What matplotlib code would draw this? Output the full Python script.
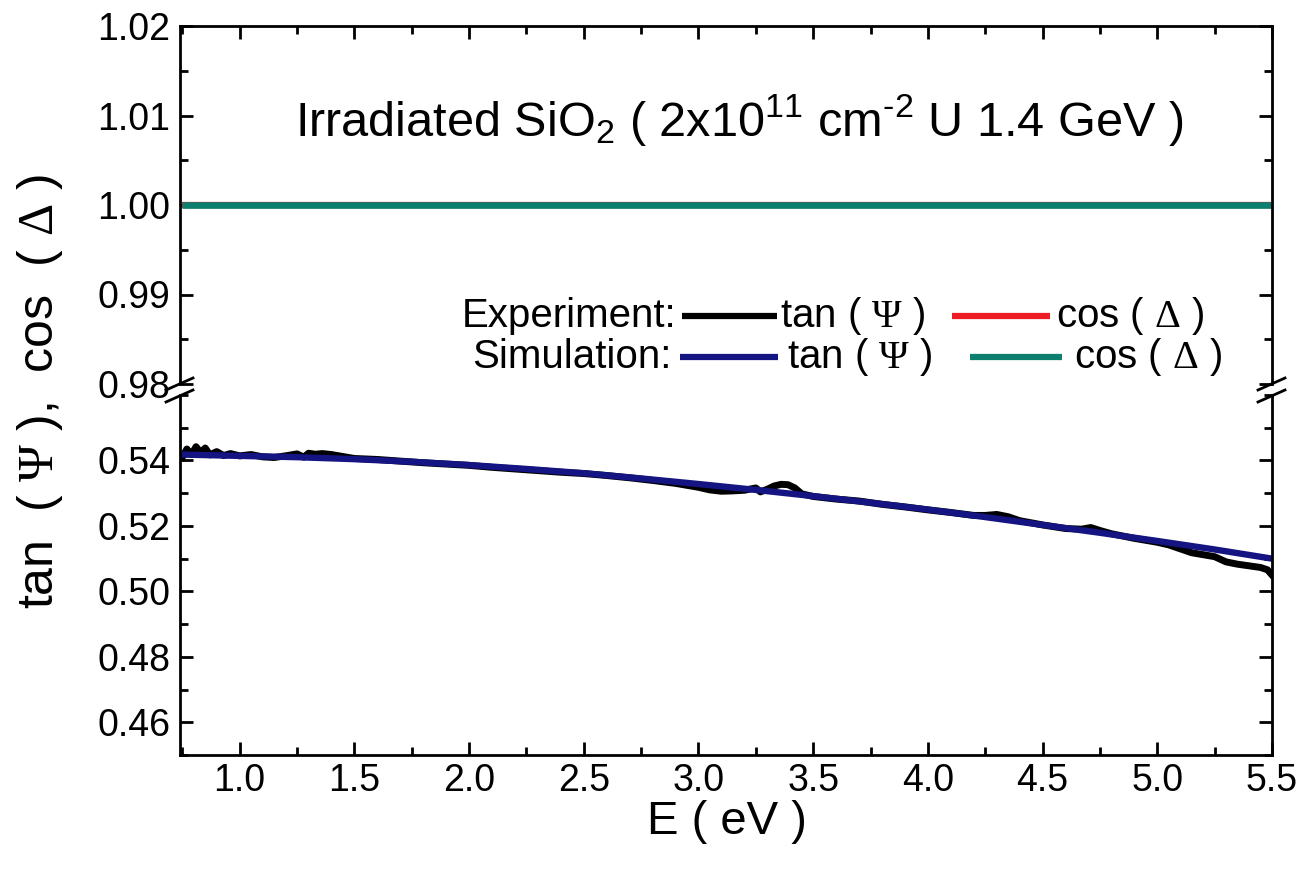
import matplotlib
matplotlib.use("Agg")
import matplotlib.pyplot as plt
from matplotlib.lines import Line2D
from matplotlib.ticker import MultipleLocator, FixedLocator

plt.rcParams['font.family'] = ['Liberation Sans', 'DejaVu Sans']
plt.rcParams['mathtext.fontset'] = 'custom'
plt.rcParams['mathtext.rm'] = 'Liberation Sans'
plt.rcParams['mathtext.it'] = 'Liberation Sans:italic'
plt.rcParams['mathtext.sf'] = 'Liberation Serif'

# ---------------- data ----------------
E_sim = [0.75, 1.0, 1.25, 1.5, 1.75, 2.0, 2.25, 2.5, 2.75, 3.0, 3.25, 3.5,
         3.75, 4.0, 4.25, 4.5, 4.75, 5.0, 5.25, 5.5]
tan_sim = [0.5418, 0.5414, 0.5410, 0.5404, 0.5396, 0.5386, 0.5374, 0.5361,
           0.5345, 0.5328, 0.5310, 0.5291, 0.5271, 0.5250, 0.5227, 0.5203,
           0.5179, 0.5154, 0.5128, 0.5100]
cos_sim = [1.0] * len(E_sim)

E_exp = [0.75, 0.77, 0.79, 0.81, 0.83, 0.85, 0.87, 0.90, 0.93, 0.96, 1.00,
         1.05, 1.10, 1.15, 1.20, 1.25, 1.28, 1.30, 1.33, 1.36, 1.40, 1.45,
         1.50, 1.60, 1.70, 1.80, 1.90, 2.00, 2.10, 2.20, 2.30, 2.40, 2.50,
         2.60, 2.70, 2.80, 2.90, 3.00, 3.05, 3.10, 3.15, 3.20, 3.25, 3.27,
         3.30, 3.33, 3.36, 3.39, 3.42, 3.45, 3.50, 3.60, 3.70, 3.80, 3.90,
         4.00, 4.10, 4.20, 4.25, 4.30, 4.35, 4.40, 4.50, 4.60, 4.67, 4.71,
         4.75, 4.80, 4.90, 5.00, 5.05, 5.10, 5.15, 5.20, 5.25, 5.30, 5.35,
         5.40, 5.45, 5.48, 5.50]
tan_exp = [0.5410, 0.5435, 0.5418, 0.5442, 0.5424, 0.5438, 0.5417, 0.5427,
           0.5415, 0.5421, 0.5414, 0.5418, 0.5411, 0.5409, 0.5414, 0.5420,
           0.5410, 0.5422, 0.5419, 0.5421, 0.5418, 0.5412, 0.5406, 0.5403,
           0.5398, 0.5393, 0.5389, 0.5385, 0.5379, 0.5374, 0.5369, 0.5364,
           0.5360, 0.5354, 0.5347, 0.5339, 0.5330, 0.5318, 0.5310, 0.5306,
           0.5307, 0.5309, 0.5316, 0.5304, 0.5312, 0.5322, 0.5327, 0.5326,
           0.5316, 0.5298, 0.5290, 0.5282, 0.5276, 0.5266, 0.5258, 0.5249,
           0.5241, 0.5232, 0.5232, 0.5235, 0.5228, 0.5216, 0.5203, 0.5192,
           0.5190, 0.5195, 0.5186, 0.5176, 0.5162, 0.5150, 0.5142, 0.5130,
           0.5118, 0.5112, 0.5106, 0.5090, 0.5083, 0.5078, 0.5073, 0.5066,
           0.5050]
cos_exp = [1.0] * len(E_exp)

xticks = [1.0, 1.5, 2.0, 2.5, 3.0, 3.5, 4.0, 4.5, 5.0, 5.5]
yticks_top = [0.98, 0.99, 1.00, 1.01, 1.02]
yticks_bot = [0.46, 0.48, 0.50, 0.52, 0.54]

C_BLACK = '#000000'
C_RED = '#ee1c25'
C_BLUE = '#141482'
C_TEAL = '#0c7f6e'

# ---------------- figure ----------------
W_PX, H_PX = 1316, 877
fig = plt.figure(figsize=(W_PX / 100, H_PX / 100), dpi=100)


def fx(px):
    return px / W_PX


def fy(py):
    return 1 - py / H_PX


x0, x1 = 180, 1272
ax_top = fig.add_axes([fx(x0), fy(384), fx(x1) - fx(x0), fy(26) - fy(384)])
ax_bot = fig.add_axes([fx(x0), fy(755), fx(x1) - fx(x0), fy(395) - fy(755)])

xlim = (0.74, 5.5)
for ax in (ax_top, ax_bot):
    ax.set_xlim(*xlim)
    ax.xaxis.set_major_locator(FixedLocator(xticks))
    ax.xaxis.set_minor_locator(MultipleLocator(0.25))
    for s in ax.spines.values():
        s.set_linewidth(2.0)
    ax.tick_params(which='both', direction='in', width=2.0, labelsize=27,
                   left=True, right=True)
    ax.tick_params(which='major', length=9.5)
    ax.tick_params(which='minor', length=5.5)

ax_top.set_ylim(0.98, 1.02)
ax_top.yaxis.set_major_locator(FixedLocator(yticks_top))
ax_top.yaxis.set_minor_locator(MultipleLocator(0.005))
ax_top.set_yticklabels(['%.2f' % v for v in yticks_top])
ax_top.spines['bottom'].set_visible(False)
ax_top.tick_params(which='both', top=True, bottom=False, labelbottom=False)

ax_bot.set_ylim(0.45, 0.56)
ax_bot.yaxis.set_major_locator(FixedLocator(yticks_bot))
ax_bot.yaxis.set_minor_locator(MultipleLocator(0.01))
ax_bot.set_yticklabels(['%.2f' % v for v in yticks_bot])
ax_bot.set_xticklabels(['%.1f' % v for v in xticks])
ax_bot.spines['top'].set_visible(False)
ax_bot.tick_params(which='both', top=False, bottom=True)
ax_bot.tick_params(axis='x', pad=6)
ax_bot.tick_params(axis='y', pad=7)
ax_top.tick_params(axis='y', pad=7)

# data lines
ax_top.plot(E_exp, cos_exp, color=C_RED, lw=4.5, solid_capstyle='butt')
ax_top.plot(E_sim, cos_sim, color=C_TEAL, lw=4.8, solid_capstyle='butt')
ax_bot.plot(E_exp, tan_exp, color=C_BLACK, lw=5.0, solid_joinstyle='round')
ax_bot.plot(E_sim, tan_sim, color=C_BLUE, lw=4.6)

# break marks
for xc in (x0, x1):
    for yc in (384, 396):
        fig.add_artist(Line2D([fx(xc - 14), fx(xc + 13)],
                              [fy(yc + 6), fy(yc - 6)],
                              color='black', lw=2.0))

# title
fig.text(fx(739), fy(120),
         r'Irradiated SiO$_2$ ( 2x10$^{11}$ cm$^{\text{-2}}$ U 1.4 GeV )',
         fontsize=35, ha='center', va='center')

# axis labels
fig.text(fx(727), fy(822), 'E ( eV )', fontsize=34, ha='center', va='center')
fig.text(fx(40), fy(392),
         r'tan  ( $\mathsf{\Psi}$ ),  cos  ( $\mathsf{\Delta}$ )',
         fontsize=36, ha='center', va='center', rotation=90)

# legend (custom layout)
LFS = 29
rows = [
    (316, 'Experiment:', 676, (682, 777, C_BLACK), 780, (952, 1050, C_RED), 1056),
    (357, 'Simulation:', 672, (680, 778, C_BLUE), 787, (970, 1062, C_TEAL), 1074),
]
for yc, lab, lab_r, l1, t1x, l2, t2x in rows:
    fig.text(fx(lab_r), fy(yc), lab, fontsize=LFS, ha='right', va='center')
    fig.add_artist(Line2D([fx(l1[0]), fx(l1[1])], [fy(yc), fy(yc)],
                          color=l1[2], lw=4.5, solid_capstyle='butt'))
    fig.text(fx(t1x), fy(yc), r'tan ( $\mathsf{\Psi}$ )', fontsize=LFS,
             ha='left', va='center')
    fig.add_artist(Line2D([fx(l2[0]), fx(l2[1])], [fy(yc), fy(yc)],
                          color=l2[2], lw=4.5, solid_capstyle='butt'))
    fig.text(fx(t2x), fy(yc), r'cos ( $\mathsf{\Delta}$ )', fontsize=LFS,
             ha='left', va='center')

fig.savefig('out.png', dpi=100)
